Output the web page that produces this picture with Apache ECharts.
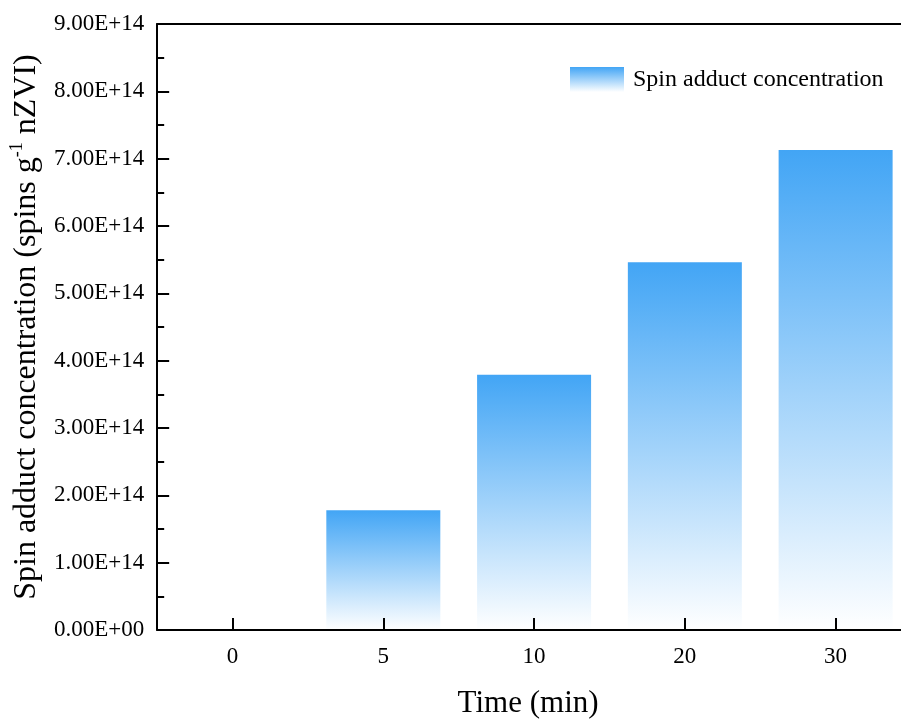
<!DOCTYPE html>
<html>
<head>
<meta charset="utf-8">
<title>Spin adduct concentration</title>
<script src="https://cdn.jsdelivr.net/npm/echarts@6/dist/echarts.min.js"></script>
<style>
  html, body { margin: 0; padding: 0; background: #fff; overflow: hidden; }
  /* the plot frame runs a little past the right edge of the picture */
  #chart { width: 915px; height: 724px; }
</style>
</head>
<body>
<div id="chart"></div>
<script>
// time points (min) and measured concentration (spins g-1 nZVI)
const timeLabels = ['0', '5', '10', '20', '30'];
const spinValues = [0, 1.78e14, 3.79e14, 5.46e14, 7.13e14];
const seriesName = 'Spin adduct concentration';

const font = "'Times New Roman', 'Liberation Serif', serif";

// 9.00E+14 style labels
function sciLabel(v) {
  if (v === 0) return '0.00E+00';
  const parts = v.toExponential(2).toUpperCase().split('E');
  const exp = parts[1];
  let digits = exp.slice(1);
  if (digits.length < 2) digits = '0' + digits;
  return parts[0] + 'E' + exp[0] + digits;
}

const barColor = new echarts.graphic.LinearGradient(0, 0, 0, 1, [
  { offset: 0, color: '#42a5f5' },
  { offset: 1, color: '#ffffff' },
]);

const chart = echarts.init(document.getElementById('chart'));

const option = {
  animation: false,
  backgroundColor: '#fff',
  grid: {
    left: 154,
    top: 24,
    right: 4,
    bottom: 92,
  },
  legend: {
    left: 570,
    top: 67,
    padding: 0,
    itemWidth: 54,
    itemHeight: 25,
    icon: 'rect',
    textStyle: {
      fontFamily: font,
      fontSize: 24,
      color: '#000',
      padding: [0, 0, 0, 4],
    },
    data: [seriesName],
  },
  xAxis: [
    {
      type: 'category',
      data: timeLabels,
      z: 5,
      name: 'Time (min)',
      nameLocation: 'middle',
      nameGap: 58,
      nameTextStyle: { fontFamily: font, fontSize: 31, color: '#000', padding: [0, 12, 0, 0] },
      axisLine: { lineStyle: { color: '#000', width: 2 } },
      axisTick: { show: true, inside: true, alignWithLabel: true, length: 12, lineStyle: { color: '#000', width: 2 } },
      axisLabel: { fontFamily: font, fontSize: 23, color: '#000', margin: 15 },
    },
    {
      // top frame line
      type: 'category',
      position: 'top',
      data: timeLabels,
      axisLine: { lineStyle: { color: '#000', width: 2 } },
      axisTick: { show: false },
      axisLabel: { show: false },
    },
  ],
  yAxis: {
    type: 'value',
    min: 0,
    max: 9e14,
    interval: 1e14,
    z: 5,
    name: '{a|Spin adduct concentration (spins g}{s|-1}{a| nZVI)}',
    nameLocation: 'middle',
    nameGap: 106,
    nameTextStyle: {
      rich: {
        a: { fontFamily: font, fontSize: 32, color: '#000', lineHeight: 38 },
        s: { fontFamily: font, fontSize: 18, color: '#000', verticalAlign: 'top', lineHeight: 38 },
      },
    },
    axisLine: { show: true, lineStyle: { color: '#000', width: 2 } },
    axisTick: { show: true, inside: true, length: 12, lineStyle: { color: '#000', width: 2 } },
    minorTick: { show: true, splitNumber: 2, length: 7, lineStyle: { color: '#000', width: 2 } },
    splitLine: { show: false },
    axisLabel: {
      fontFamily: font,
      fontSize: 23,
      color: '#000',
      margin: 13,
      formatter: sciLabel,
    },
  },
  series: [
    {
      name: seriesName,
      type: 'bar',
      barWidth: 114,
      data: spinValues,
      itemStyle: { color: barColor },
    },
  ],
};

chart.setOption(option);
</script>
</body>
</html>
